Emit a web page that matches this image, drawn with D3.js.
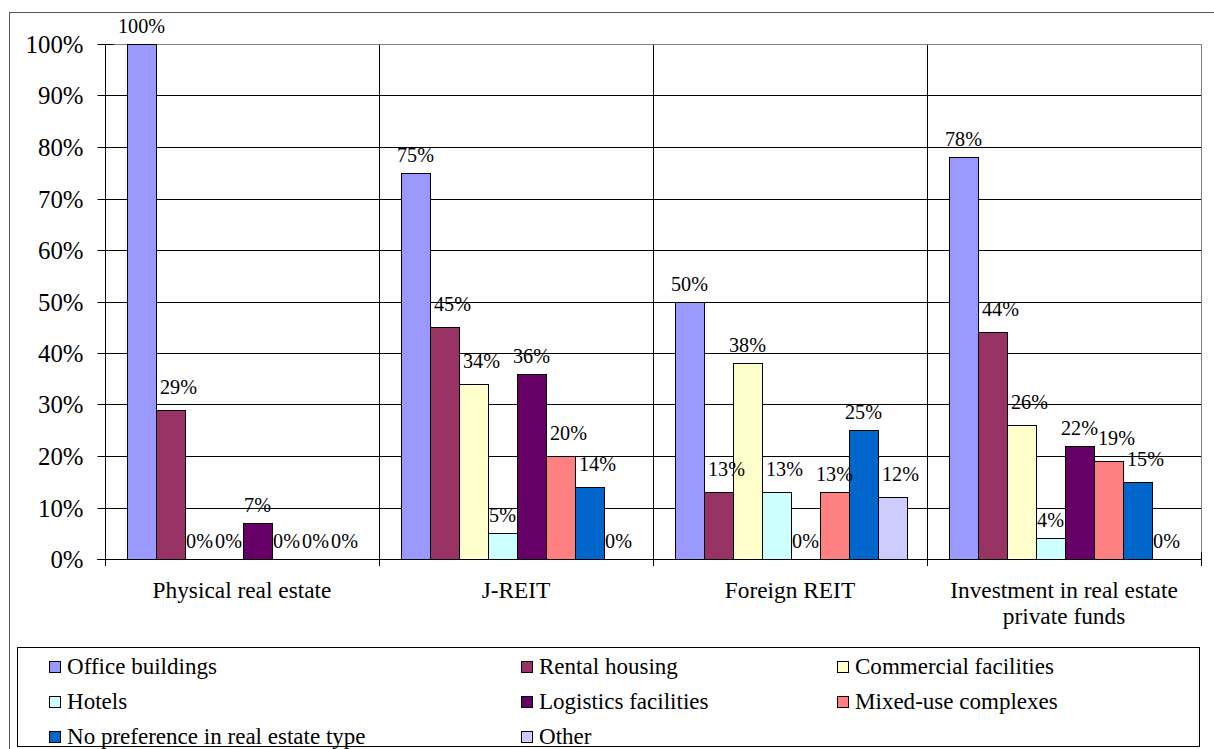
<!DOCTYPE html>
<html>
<head>
<meta charset="utf-8">
<script src="https://cdn.jsdelivr.net/npm/d3@7"></script>
<style>
  html, body { margin: 0; padding: 0; background: #fff; }
  svg { display: block; }
</style>
</head>
<body>
<svg id="chart" width="1214" height="749"></svg>
<script>
// ---- data ----
const categories = ["Physical real estate", "J-REIT", "Foreign REIT", "Investment in real estate private funds"];
const seriesNames = ["Office buildings", "Rental housing", "Commercial facilities", "Hotels",
                     "Logistics facilities", "Mixed-use complexes", "No preference in real estate type", "Other"];
const seriesColors = ["#9999FF", "#993366", "#FFFFCC", "#CCFFFF", "#660066", "#FF8080", "#0066CC", "#CCCCFF"];
const officeBuildings      = [100, 75, 50, 78];
const rentalHousing        = [29, 45, 13, 44];
const commercialFacilities = [0, 34, 38, 26];
const hotels               = [0, 5, 13, 4];
const logisticsFacilities  = [7, 36, 0, 22];
const mixedUseComplexes    = [0, 20, 13, 19];
const noPreference         = [0, 14, 25, 15];
const other                = [0, 0, 12, 0];
const yTicks = [0, 10, 20, 30, 40, 50, 60, 70, 80, 90, 100];
const yTickLabels = ["0%", "10%", "20%", "30%", "40%", "50%", "60%", "70%", "80%", "90%", "100%"];

const seriesValues = [officeBuildings, rentalHousing, commercialFacilities, hotels,
                      logisticsFacilities, mixedUseComplexes, noPreference, other];

const svg = d3.select("#chart");
const FAM = '"Liberation Serif"';

// size fonts so text widths match the reference
function measure(str, size) {
  const t = svg.append("text").attr("font-family", FAM).attr("font-size", size).text(str);
  const w = t.node().getComputedTextLength();
  t.remove();
  return w;
}
const fit = (str, width) => 100 * width / measure(str, 100);
const axisSize   = fit("100%", 58);
const labelSize  = fit("75%", 37);
const catSize    = fit("Physical real estate", 179);
const legendSize = fit("Office buildings", 150);

const plot = { left: 105, right: 1201, top: 44, bottom: 559 };

const x0 = d3.scaleBand().domain(d3.range(categories.length)).range([plot.left, plot.right]).padding(0);
const x1 = d3.scaleBand().domain(d3.range(seriesNames.length)).range([22, 22 + 29 * 8]).padding(0);
const y = d3.scaleLinear().domain([0, 100]).range([plot.bottom, plot.top]);

// outer frame
svg.append("rect").attr("x", 9.5).attr("y", 12.5).attr("width", 1220).attr("height", 800)
  .attr("fill", "none").attr("stroke", "#555").attr("stroke-width", 1);

// horizontal gridlines
svg.append("g").selectAll("line").data(yTicks.filter(t => t > 0 && t < 100)).join("line")
  .attr("x1", plot.left).attr("x2", plot.right)
  .attr("y1", d => Math.round(y(d)) + 0.5).attr("y2", d => Math.round(y(d)) + 0.5)
  .attr("stroke", "#000").attr("stroke-width", 1);

// vertical separators between categories
svg.append("g").selectAll("line").data(d3.range(1, categories.length)).join("line")
  .attr("x1", d => Math.round(x0(d)) + 0.5).attr("x2", d => Math.round(x0(d)) + 0.5)
  .attr("y1", plot.top).attr("y2", plot.bottom)
  .attr("stroke", "#000").attr("stroke-width", 1);

// plot area border (top & right, gray)
svg.append("path")
  .attr("d", `M${plot.left},${plot.top + 0.5}H${plot.right + 0.5}V${plot.bottom}`)
  .attr("fill", "none").attr("stroke", "#808080").attr("stroke-width", 1);

// y axis
const yAxis = d3.axisLeft(y).tickValues(yTicks).tickFormat((d, i) => yTickLabels[i]).tickSize(8).tickPadding(14);
const gy = svg.append("g").attr("transform", `translate(${plot.left + 0.5},0)`).call(yAxis);
gy.select(".domain").attr("stroke", "#000").attr("d", `M0,${plot.top}V${plot.bottom}`);
gy.selectAll(".tick line").attr("stroke", "#000").attr("x2", -8).attr("x1", 8);
gy.selectAll(".tick").attr("transform", d => `translate(0,${Math.round(y(d)) + 0.5})`);
gy.selectAll(".tick text").attr("fill", "#000").attr("dy", "0.34em")
  .attr("font-family", FAM).attr("font-size", axisSize);

// x axis
const xTickPos = d3.range(categories.length + 1).map(i => i < categories.length ? x0(i) : plot.right);
const gx = svg.append("g");
gx.append("line").attr("x1", plot.left - 8).attr("x2", plot.right + 0.5)
  .attr("y1", plot.bottom + 0.5).attr("y2", plot.bottom + 0.5).attr("stroke", "#000");
gx.selectAll("line.tk").data(xTickPos).join("line").attr("class", "tk")
  .attr("x1", d => Math.round(d) + 0.5).attr("x2", d => Math.round(d) + 0.5)
  .attr("y1", plot.bottom - 7).attr("y2", plot.bottom + 7).attr("stroke", "#000");

// category labels (wrapped)
const catG = svg.append("g");
categories.forEach((c, i) => {
  const cx = x0(i) + x0.bandwidth() / 2;
  const t = catG.append("text").attr("x", cx).attr("y", 598).attr("text-anchor", "middle")
    .attr("font-family", FAM).attr("font-size", catSize);
  const words = c.split(" ");
  let line = [];
  let tspan = t.append("tspan").attr("x", cx).attr("dy", 0);
  words.forEach(w => {
    line.push(w);
    tspan.text(line.join(" "));
    if (tspan.node().getComputedTextLength() > 250 && line.length > 1) {
      line.pop();
      tspan.text(line.join(" "));
      line = [w];
      tspan = t.append("tspan").attr("x", cx).attr("dy", 26).text(w);
    }
  });
});

// bars
const barG = svg.append("g");
const bars = [];
categories.forEach((c, ci) => {
  seriesValues.forEach((vals, si) => {
    bars.push({ ci, si, v: vals[ci], x: x0(ci) + x1(si), w: x1.bandwidth() });
  });
});
barG.selectAll("rect").data(bars).join("rect")
  .attr("x", d => Math.round(d.x) + 0.5)
  .attr("y", d => Math.round(y(d.v)) + 0.5)
  .attr("width", d => d.w)
  .attr("height", d => Math.max(0, Math.round(y(0)) - Math.round(y(d.v))))
  .attr("fill", d => seriesColors[d.si])
  .attr("stroke", d => d.v > 0 ? "#000" : "none")
  .attr("stroke-width", 1);

// data labels, nudged right when they would collide with the preceding taller bar
const labG = svg.append("g");
bars.forEach((d, k) => {
  const cx = d.x + d.w / 2;
  const top = y(d.v);
  const t = labG.append("text").attr("text-anchor", "start")
    .attr("font-family", FAM).attr("font-size", labelSize).text(d.v + "%");
  const tw = t.node().getComputedTextLength();
  let left = cx - tw / 2;
  let base = top - 11;
  if (d.si > 0) {
    const prev = bars[k - 1];
    const prevTop = y(prev.v);
    const prevRight = prev.x + prev.w;
    if (base > prevTop && left < prevRight - 0.5) {
      left = prevRight + 4;
      base = top - 16;
    }
  }
  t.attr("x", left).attr("y", base);
});

// legend
const legend = svg.append("g");
legend.append("rect").attr("x", 17.5).attr("y", 647.5).attr("width", 1182).attr("height", 99)
  .attr("fill", "#fff").attr("stroke", "#000").attr("stroke-width", 1);
const legCols = [49, 521, 837];
const legRows = [674, 709, 744];
seriesNames.forEach((n, i) => {
  const cx = legCols[i % 3], by = legRows[Math.floor(i / 3)];
  legend.append("rect").attr("x", cx + 0.5).attr("y", by - 13 + 0.5).attr("width", 11).attr("height", 11)
    .attr("fill", seriesColors[i]).attr("stroke", "#000");
  legend.append("text").attr("x", cx + 18).attr("y", by)
    .attr("font-family", FAM).attr("font-size", legendSize).text(n);
});
</script>
</body>
</html>
